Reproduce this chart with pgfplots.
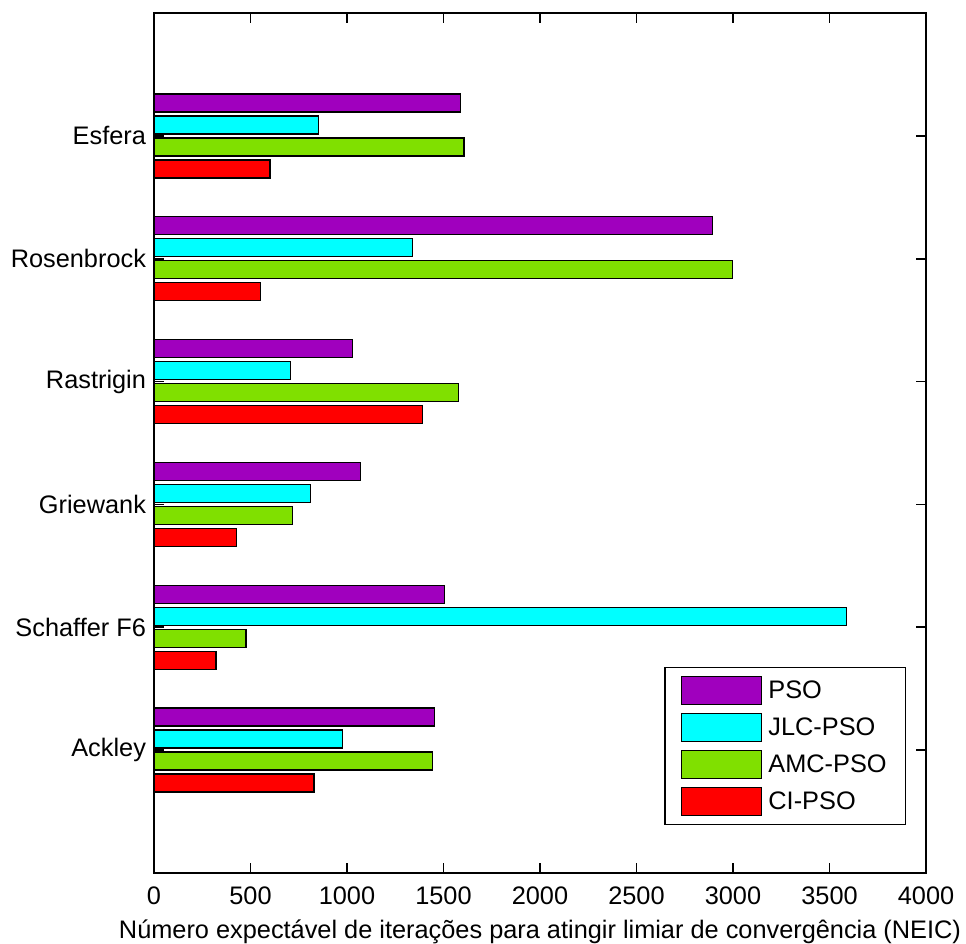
\documentclass[border=0pt]{standalone}
\usepackage{fontspec}
\setmainfont{Liberation Sans}
\usepackage{pgfplots}
\usepackage{pgfplotstable}
\pgfplotsset{compat=1.18}
\definecolor{cPSO}{RGB}{160,0,190}
\definecolor{cJLC}{RGB}{0,255,255}
\definecolor{cAMC}{RGB}{128,224,0}
\definecolor{cCI}{RGB}{255,0,0}
\pgfplotstableread{
pos name pso jlc amc ci
6 Esfera 1589 851 1606 601
5 Rosenbrock 2895 1338 2996 551
4 Rastrigin 1028 706 1577 1390
3 Griewank 1069 810 717 426
2 SchafferF6 1505 3588 476 321
1 Ackley 1452 976 1442 829
}\data
\begin{document}
\begin{tikzpicture}
\useasboundingbox (-115.5pt,-52.5pt) rectangle (609pt,654.75pt);
\begin{axis}[
  at={(0,0)}, anchor=south west,
  scale only axis, width=579pt, height=645pt,
  xbar, bar width=13.5pt,
  xmin=0, xmax=4000, ymin=0, ymax=7,
  xtick={0,500,...,4000},
  ytick={1,2,3,4,5,6},
  yticklabels={Ackley,Schaffer F6,Griewank,Rastrigin,Rosenbrock,Esfera},
  tick align=inside, major tick length=7.5pt,
  tick pos=both,
  scaled x ticks=false,
  /pgf/number format/1000 sep={},
  /pgf/number format/assume math mode=true,
  tick label style={font=\fontsize{19}{22}\selectfont, black},
  yticklabel style={xshift=-2.5pt},
  xticklabel style={yshift=-7pt},
  label style={font=\fontsize{19}{22}\selectfont, black},
  xlabel style={yshift=-4pt},
  xlabel={Número expectável de iterações para atingir limiar de convergência (NEIC)},
  axis line style={line width=1.2pt},
  every tick/.style={black, line width=1.2pt},
  axis on top,
  legend style={at={(1,0)}, anchor=south east, xshift=-15pt, yshift=36pt,
    draw=black, line width=1pt, font=\fontsize{19}{22}\selectfont,
    row sep=5.8pt, column sep=2.5pt, inner xsep=12pt, inner ysep=6pt},
  legend cell align=left,
  legend image code/.code={\draw[#1] (0pt,-10.5pt) rectangle (60pt,10.5pt);},
]
\addplot[fill=cPSO, draw=black, line width=1pt, bar shift=24.75pt] table[x=pso, y=pos] {\data};
\addplot[fill=cJLC, draw=black, line width=1pt, bar shift=8.25pt] table[x=jlc, y=pos] {\data};
\addplot[fill=cAMC, draw=black, line width=1pt, bar shift=-8.25pt] table[x=amc, y=pos] {\data};
\addplot[fill=cCI, draw=black, line width=1pt, bar shift=-24.75pt] table[x=ci, y=pos] {\data};
\legend{PSO,JLC-PSO,AMC-PSO,CI-PSO}
\end{axis}
\end{tikzpicture}
\end{document}
